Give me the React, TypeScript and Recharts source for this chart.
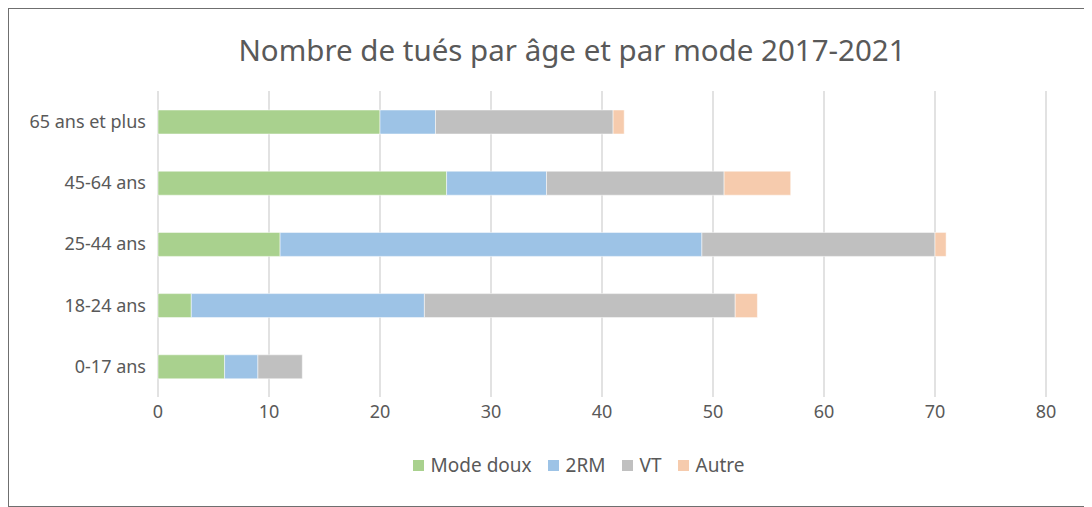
import React from 'react';
import { Bar, BarChart, CartesianGrid, Legend, XAxis, YAxis } from 'recharts';

const categories = ['65 ans et plus', '45-64 ans', '25-44 ans', '18-24 ans', '0-17 ans'];
const modeDoux = [20, 26, 11, 3, 6];
const deuxRM = [5, 9, 38, 21, 3];
const vt = [16, 16, 21, 28, 4];
const autre = [1, 6, 1, 2, 0];
const xTicks = [0, 10, 20, 30, 40, 50, 60, 70, 80];

const seriesKeys = ['modeDoux', 'deuxRM', 'vt', 'autre'];
const seriesNames = ['Mode doux', '2RM', 'VT', 'Autre'];
const seriesColors = ['#A9D18E', '#9DC3E6', '#C0C0C0', '#F6CBAD'];

const FONT = '"Noto Sans", "Open Sans", sans-serif';
const TEXT = '#595959';

const LegendContent = () => (
  <div
    style={{
      display: 'flex',
      justifyContent: 'center',
      alignItems: 'center',
      fontFamily: FONT,
      paddingLeft: 102,
      marginTop: 4,
    }}
  >
    {seriesNames.map((name, i) => (
      <div
        key={name}
        style={{ display: 'flex', alignItems: 'center', marginRight: i < seriesNames.length - 1 ? 16 : 0 }}
      >
        <span style={{ display: 'inline-block', width: 11, height: 11, background: seriesColors[i], marginRight: 7 }} />
        <span style={{ color: TEXT, fontSize: 19 }}>{name}</span>
      </div>
    ))}
  </div>
);

const App: React.FC = () => {
  const chartData = categories.map((name, i) => ({
    name,
    modeDoux: modeDoux[i],
    deuxRM: deuxRM[i],
    vt: vt[i],
    autre: autre[i],
  }));

  return (
    <div
      style={{
        position: 'relative',
        width: 1082,
        height: 497,
        border: '1px solid #6f6f6f',
        background: '#fff',
        fontFamily: FONT,
      }}
    >
      <div
        style={{
          position: 'absolute',
          top: 20,
          left: 0,
          width: 1126,
          textAlign: 'center',
          fontSize: 29.5,
          color: TEXT,
          whiteSpace: 'nowrap',
        }}
      >
        Nombre de tués par âge et par mode 2017-2021
      </div>
      <BarChart
        width={1082}
        height={497}
        data={chartData}
        layout="vertical"
        barSize={24}
        margin={{ top: 82, right: 45, left: 0, bottom: 28 }}
      >
        <CartesianGrid horizontal={false} stroke="#d9d9d9" strokeWidth={1.5} />
        <XAxis
          type="number"
          domain={[0, 80]}
          ticks={xTicks}
          axisLine={false}
          tickLine={false}
          height={51}
          tick={{ fontSize: 18, fill: TEXT, fontFamily: FONT }}
          tickMargin={2}
        />
        <YAxis
          type="category"
          dataKey="name"
          width={149}
          axisLine={false}
          tickLine={false}
          tick={{ fontSize: 18, fill: TEXT, fontFamily: FONT }}
          tickMargin={6}
        />
        <Legend verticalAlign="bottom" align="center" content={LegendContent} />
        {seriesKeys.map((key, i) => (
          <Bar
            key={key}
            dataKey={key}
            name={seriesNames[i]}
            stackId="a"
            fill={seriesColors[i]}
            stroke="#fff"
            strokeWidth={0.5}
            isAnimationActive={false}
          />
        ))}
      </BarChart>
    </div>
  );
};

export default App;
